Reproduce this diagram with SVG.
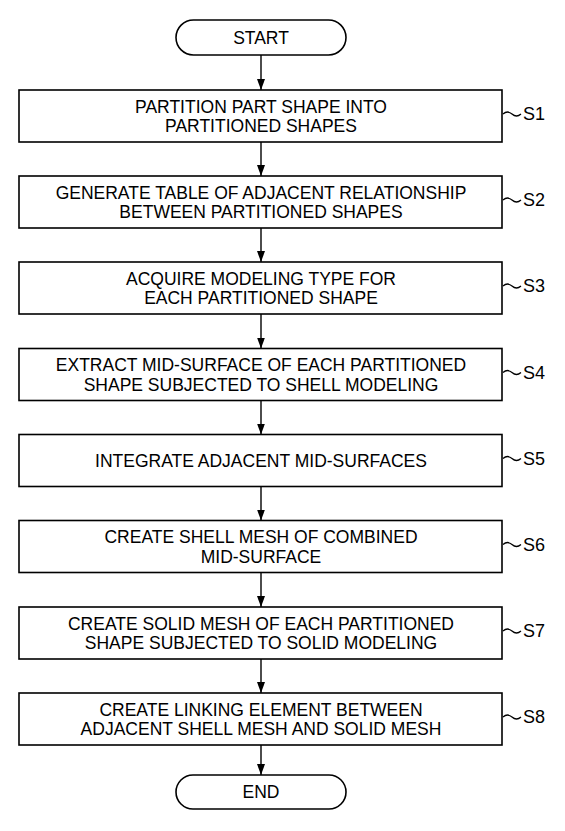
<svg xmlns="http://www.w3.org/2000/svg" width="565" height="831" viewBox="0 0 565 831">
<style>
.box{fill:#fff;stroke:#000;stroke-width:1.6}
.t{font-family:"Liberation Sans",Arial,sans-serif;font-size:17.5px;fill:#000;text-anchor:middle}
.lb{font-family:"Liberation Sans",Arial,sans-serif;font-size:18px;fill:#000}
.c{stroke:#000;stroke-width:1.4;fill:none}
.w{stroke:#000;stroke-width:1.2;fill:none}
</style>
<defs>
<marker id="ah" markerWidth="12" markerHeight="10" refX="11" refY="5" orient="auto" markerUnits="userSpaceOnUse" viewBox="0 0 12 10">
<path d="M0,1 L11,5 L0,9 Z" fill="#000"/>
</marker>
</defs>
<rect width="565" height="831" fill="#fff"/>
<g id="connectors">
<line class="c" x1="261" y1="55" x2="261" y2="90" marker-end="url(#ah)"/>
<line class="c" x1="261" y1="142" x2="261" y2="176" marker-end="url(#ah)"/>
<line class="c" x1="261" y1="228" x2="261" y2="262" marker-end="url(#ah)"/>
<line class="c" x1="261" y1="314" x2="261" y2="348.5" marker-end="url(#ah)"/>
<line class="c" x1="261" y1="400.5" x2="261" y2="434.5" marker-end="url(#ah)"/>
<line class="c" x1="261" y1="486.5" x2="261" y2="520.5" marker-end="url(#ah)"/>
<line class="c" x1="261" y1="572.5" x2="261" y2="607" marker-end="url(#ah)"/>
<line class="c" x1="261" y1="659" x2="261" y2="693" marker-end="url(#ah)"/>
<line class="c" x1="261" y1="745" x2="261" y2="775" marker-end="url(#ah)"/>
</g>
<g id="start">
<rect class="box" x="176" y="20" width="170" height="35" rx="17.5"/>
<text class="t" x="261" y="43.5">START</text>
</g>
<g id="s1">
<rect class="box" x="19" y="90" width="483" height="52"/>
<text class="t" x="261" y="112.5">PARTITION PART SHAPE INTO</text>
<text class="t" x="261" y="132">PARTITIONED SHAPES</text>
<path class="w" d="M503,114 q4.5,-4 9,0 t9,0"/>
<text class="lb" x="523" y="120">S1</text>
</g>
<g id="s2">
<rect class="box" x="19" y="176" width="483" height="52"/>
<text class="t" x="261" y="198.5">GENERATE TABLE OF ADJACENT RELATIONSHIP</text>
<text class="t" x="261" y="218">BETWEEN PARTITIONED SHAPES</text>
<path class="w" d="M503,200 q4.5,-4 9,0 t9,0"/>
<text class="lb" x="523" y="206">S2</text>
</g>
<g id="s3">
<rect class="box" x="19" y="262" width="483" height="52"/>
<text class="t" x="261" y="284.5">ACQUIRE MODELING TYPE FOR</text>
<text class="t" x="261" y="304">EACH PARTITIONED SHAPE</text>
<path class="w" d="M503,286 q4.5,-4 9,0 t9,0"/>
<text class="lb" x="523" y="292">S3</text>
</g>
<g id="s4">
<rect class="box" x="19" y="348.5" width="483" height="52"/>
<text class="t" x="261" y="371">EXTRACT MID-SURFACE OF EACH PARTITIONED</text>
<text class="t" x="261" y="390.5">SHAPE SUBJECTED TO SHELL MODELING</text>
<path class="w" d="M503,372.5 q4.5,-4 9,0 t9,0"/>
<text class="lb" x="523" y="378.5">S4</text>
</g>
<g id="s5">
<rect class="box" x="19" y="434.5" width="483" height="52"/>
<text class="t" x="261" y="467">INTEGRATE ADJACENT MID-SURFACES</text>
<path class="w" d="M503,458.5 q4.5,-4 9,0 t9,0"/>
<text class="lb" x="523" y="464.5">S5</text>
</g>
<g id="s6">
<rect class="box" x="19" y="520.5" width="483" height="52"/>
<text class="t" x="261" y="543">CREATE SHELL MESH OF COMBINED</text>
<text class="t" x="261" y="562.5">MID-SURFACE</text>
<path class="w" d="M503,544.5 q4.5,-4 9,0 t9,0"/>
<text class="lb" x="523" y="550.5">S6</text>
</g>
<g id="s7">
<rect class="box" x="19" y="607" width="483" height="52"/>
<text class="t" x="261" y="629.5">CREATE SOLID MESH OF EACH PARTITIONED</text>
<text class="t" x="261" y="649">SHAPE SUBJECTED TO SOLID MODELING</text>
<path class="w" d="M503,631 q4.5,-4 9,0 t9,0"/>
<text class="lb" x="523" y="637">S7</text>
</g>
<g id="s8">
<rect class="box" x="19" y="693" width="483" height="52"/>
<text class="t" x="261" y="715.5">CREATE LINKING ELEMENT BETWEEN</text>
<text class="t" x="261" y="735">ADJACENT SHELL MESH AND SOLID MESH</text>
<path class="w" d="M503,717 q4.5,-4 9,0 t9,0"/>
<text class="lb" x="523" y="723">S8</text>
</g>
<g id="end">
<rect class="box" x="176" y="775" width="170" height="34" rx="17"/>
<text class="t" x="261" y="798">END</text>
</g>
</svg>
